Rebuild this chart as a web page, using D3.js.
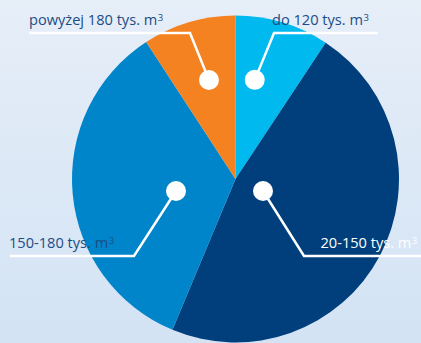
<!DOCTYPE html>
<html>
<head>
<meta charset="utf-8">
<script src="https://cdn.jsdelivr.net/npm/d3@7/dist/d3.min.js"></script>
<style>
  html, body { margin: 0; padding: 0; }
  svg { display: block; }
</style>
</head>
<body>
<script>
// Share of capacity classes, clockwise from 12 o'clock
const categories = ["do 120 tys. m", "20-150 tys. m", "150-180 tys. m", "powyżej 180 tys. m"];
const shares = [9.3, 47.0, 34.5, 9.2];
const sliceColors = ["#00b9ef", "#003f7c", "#0085cb", "#f58220"];
const labelColors = ["#1b4c86", "#ffffff", "#1b4c86", "#1b4c86"];

// Callout geometry: dot (polar, degrees clockwise from top), elbow, end of the rule, text anchor
const callouts = [
  { dotAngle: 11, dotR: 101, elbow: [274, 33], end: 378, text: [272, 25] },
  { dotAngle: 113.6, dotR: 30, elbow: [304, 256], end: 421, text: [320.5, 248] },
  { dotAngle: 258.6, dotR: 60.7, elbow: [134, 256], end: 10, text: [9, 248] },
  { dotAngle: -15, dotR: 102.5, elbow: [190, 33], end: 29, text: [29, 25] }
];

const W = 421, H = 343;
const cx = 235.5, cy = 179, R = 163.5;

const svg = d3.select("body").append("svg")
  .attr("width", W).attr("height", H);

const defs = svg.append("defs");
const grad = defs.append("linearGradient")
  .attr("id", "bg").attr("x1", 0).attr("y1", 0).attr("x2", 0).attr("y2", 1);
grad.append("stop").attr("offset", "0%").attr("stop-color", "#e6eef8");
grad.append("stop").attr("offset", "100%").attr("stop-color", "#d3e3f4");
svg.append("rect").attr("width", W).attr("height", H).attr("fill", "url(#bg)");

const pie = d3.pie().sort(null).value(d => d);
const arc = d3.arc().innerRadius(0).outerRadius(R);

const g = svg.append("g").attr("transform", `translate(${cx},${cy})`);
g.selectAll("path.slice")
  .data(pie(shares))
  .join("path")
  .attr("class", "slice")
  .attr("d", arc)
  .attr("fill", (d, i) => sliceColors[i]);

// Leader lines with dots
const toXY = (deg, r) => {
  const a = deg * Math.PI / 180;
  return [cx + r * Math.sin(a), cy - r * Math.cos(a)];
};

callouts.forEach((c, i) => {
  const dot = toXY(c.dotAngle, c.dotR);
  const pts = [dot, c.elbow, [c.end, c.elbow[1]]];
  svg.append("path")
    .attr("d", d3.line()(pts))
    .attr("fill", "none")
    .attr("stroke", "#ffffff")
    .attr("stroke-width", 2.5);
  svg.append("circle")
    .attr("cx", dot[0]).attr("cy", dot[1]).attr("r", 10)
    .attr("fill", "#ffffff");

  const t = svg.append("text")
    .attr("x", c.text[0]).attr("y", c.text[1])
    .attr("font-family", "'Open Sans', sans-serif")
    .attr("font-size", 14.6)
    .attr("fill", labelColors[i]);
  t.append("tspan").text(categories[i]);
  t.append("tspan").attr("dx", 0.5).attr("dy", -4).attr("font-size", 9.5).text("3");
});
</script>
</body>
</html>
